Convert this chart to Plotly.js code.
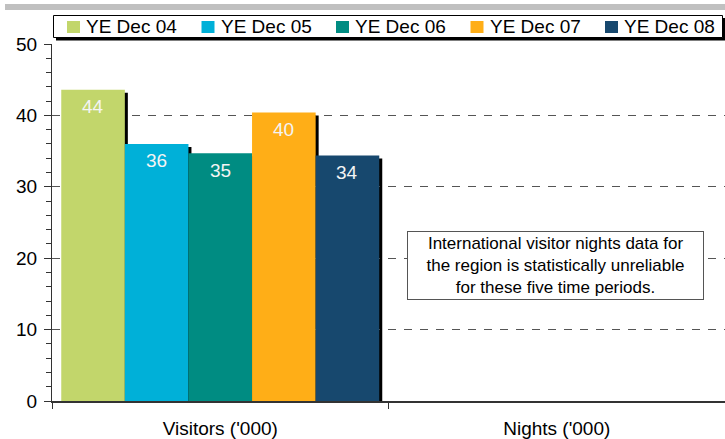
<!DOCTYPE html>
<html>
<head>
<meta charset="utf-8">
<script src="https://cdn.plot.ly/plotly-3.0.1.min.js"></script>
<style>
html,body{margin:0;padding:0;background:#fff;}
#chart{width:725px;height:439px;}
</style>
</head>
<body>
<div id="chart"></div>
<script>
// ---- data ----
const categories = ["Visitors ('000)", "Nights ('000)"];
const seriesNames = ["YE Dec 04", "YE Dec 05", "YE Dec 06", "YE Dec 07", "YE Dec 08"];
const visitorValues = [43.6, 36.0, 34.7, 40.4, 34.4];
const valueLabels = ["44", "36", "35", "40", "34"];
const seriesColors = ["#C2D66B", "#00B0D8", "#008C82", "#FFAE17", "#17486E"];
const noteText = "International visitor nights data for<br>the region is statistically unreliable<br>for these five time periods.";

// ---- layout constants ----
const FONT = 'Liberation Sans, Arial, sans-serif';
const W = 725, H = 439;
const margin = {l: 52, r: 0, t: 44, b: 38};
const plotW = W - margin.l - margin.r;
const plotH = H - margin.t - margin.b;
const yMax = 50;
const bargap = 0.055;
const px2x = p => (p - margin.l) / plotW;        // pixel x -> paper x
const px2y = p => (H - margin.b - p) / plotH;    // pixel y -> paper y

const traces = seriesNames.map((name, i) => ({
  type: 'bar',
  name: name,
  x: [categories[0], categories[1]],
  y: [visitorValues[i], null],
  marker: {color: seriesColors[i], line: {width: 0}},
  hoverinfo: 'skip',
  showlegend: false
}));

const unitPx = plotW / categories.length;
const yPx = plotH / yMax;
const dx = 3 / unitPx, dy = 3 / yPx;
const barW = (1 - bargap) / seriesNames.length;
const barCenter = i => -0.5 + bargap / 2 + (i + 0.5) * barW;

const shapes = [];
const annotations = [];

// bar shadows and value labels (from data)
visitorValues.forEach((v, i) => {
  const x0 = barCenter(i) - barW / 2;
  shapes.push({
    type: 'rect', xref: 'x', yref: 'y', layer: 'below',
    x0: x0 + dx, x1: x0 + barW + dx, y0: 0, y1: v - dy,
    fillcolor: '#000000', line: {width: 0}
  });
  annotations.push({
    xref: 'x', yref: 'y', x: barCenter(i), y: v,
    yshift: -17, xanchor: 'center', yanchor: 'middle',
    text: valueLabels[i], showarrow: false,
    font: {family: FONT, size: 19, color: '#f4f4f4'}
  });
});

// gray band at top (cropped title bar)
shapes.push({
  type: 'rect', xref: 'paper', yref: 'paper', layer: 'above',
  x0: px2x(5), x1: 1, y0: px2y(10), y1: px2y(4),
  fillcolor: '#c0c0c0', line: {width: 0}
});

// manual legend: shadow, box, entries
shapes.push({
  type: 'rect', xref: 'paper', yref: 'paper', layer: 'above',
  x0: px2x(56), x1: px2x(726), y0: px2y(40.5), y1: px2y(18),
  fillcolor: '#000000', line: {width: 0}
});
shapes.push({
  type: 'rect', xref: 'paper', yref: 'paper', layer: 'above',
  x0: px2x(53.5), x1: px2x(722.5), y0: px2y(37.5), y1: px2y(15.5),
  fillcolor: '#ffffff', line: {color: '#000000', width: 1}
});
seriesNames.forEach((name, i) => {
  const sx = 67 + 134.5 * i;
  shapes.push({
    type: 'rect', xref: 'paper', yref: 'paper', layer: 'above',
    x0: px2x(sx), x1: px2x(sx + 13), y0: px2y(33), y1: px2y(21),
    fillcolor: seriesColors[i], line: {width: 0}
  });
  annotations.push({
    xref: 'paper', yref: 'paper', x: px2x(sx + 17), y: px2y(27),
    xanchor: 'left', yanchor: 'middle', text: name, showarrow: false,
    font: {family: FONT, size: 19, color: '#000000'}
  });
});

// note box
annotations.push({
  xref: 'paper', yref: 'paper',
  x: px2x(555.5), y: px2y(265.5),
  xanchor: 'center', yanchor: 'middle',
  text: noteText, showarrow: false, align: 'center',
  font: {family: FONT, size: 17, color: '#000000'},
  bgcolor: '#ffffff', bordercolor: '#555555', borderwidth: 1, borderpad: 2,
  width: 291
});

const layout = {
  width: W, height: H,
  margin: margin,
  paper_bgcolor: '#ffffff',
  plot_bgcolor: '#ffffff',
  barmode: 'group',
  bargap: bargap,
  bargroupgap: 0,
  font: {family: FONT, size: 19, color: '#000000'},
  showlegend: false,
  xaxis: {
    type: 'category',
    categoryorder: 'array', categoryarray: categories,
    range: [-0.5, 1.5],
    showline: true, linecolor: '#333333', linewidth: 2,
    ticks: 'outside', tickson: 'boundaries', ticklen: 6, tickcolor: '#333333',
    ticklabelstandoff: 9,
    showgrid: false, zeroline: false,
    tickfont: {family: FONT, size: 19, color: '#000000'},
    fixedrange: true
  },
  yaxis: {
    range: [0, yMax],
    dtick: 10,
    showline: true, linecolor: '#333333', linewidth: 1,
    ticks: 'outside', ticklen: 7, tickcolor: '#333333',
    ticklabelstandoff: 3,
    minor: {dtick: 2, ticks: 'outside', ticklen: 5, tickcolor: '#333333', showgrid: false},
    showgrid: true, gridcolor: '#555555', gridwidth: 1, griddash: '8px,8px',
    zeroline: false,
    tickfont: {family: FONT, size: 19, color: '#000000'},
    fixedrange: true
  },
  shapes: shapes,
  annotations: annotations
};

Plotly.newPlot('chart', traces, layout, {displayModeBar: false, staticPlot: true});
</script>
</body>
</html>
